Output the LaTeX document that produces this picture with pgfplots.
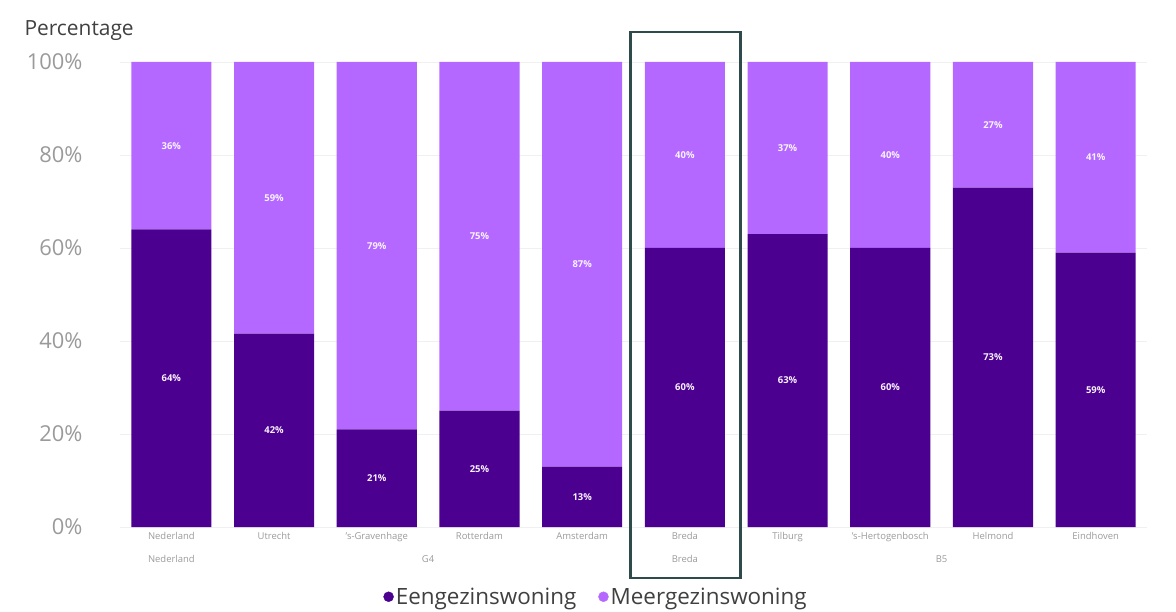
\documentclass[border=0pt]{standalone}
\usepackage{pgfplots}
\usepackage{pgfplotstable}
\pgfplotsset{compat=1.18}
\usepackage{fontspec}
\setmainfont{Open Sans}
\definecolor{dark}{HTML}{4B008F}
\definecolor{light}{HTML}{B468FF}
\definecolor{boxc}{HTML}{2F4A4A}
\definecolor{tickgray}{HTML}{9A9A9A}
\definecolor{txt}{HTML}{404040}
\pgfplotsset{/pgf/number format/assume math mode=true}

% x  e (Eengezinswoning)  m (Meergezinswoning)  el, ml = printed labels
\pgfplotstableread{
x e m el ml
0 64 36 64 36
1 41.6 58.4 42 59
2 21 79 21 79
3 25 75 25 75
4 13 87 13 87
5 60 40 60 40
6 63 37 63 37
7 60 40 60 40
8 73 27 73 27
9 59 41 59 41
}\datatable

\begin{document}
\begin{tikzpicture}
\path[use as bounding box] (0,0) rectangle (1176bp,612bp);

\begin{axis}[
  at={(120bp,85bp)}, anchor=south west,
  scale only axis, width=1027bp, height=465bp,
  ybar stacked, bar width=0.78,
  xmin=-0.5, xmax=9.5, ymin=0, ymax=100,
  axis line style={draw=none}, major tick length=0pt,
  ytick={0,20,40,60,80,100},
  yticklabel={\pgfmathprintnumber{\tick}\%},
  yticklabel style={font=\fontsize{22}{26}\selectfont, text=tickgray, xshift=-34bp},
  ymajorgrids, grid style={color=black!6, line width=0.6bp},
  xtick={0,...,9},
  xticklabels={Nederland,Utrecht,'s-Gravenhage,Rotterdam,Amsterdam,Breda,Tilburg,'s-Hertogenbosch,Helmond,Eindhoven},
  xticklabel style={font=\fontsize{9.5}{11}\selectfont, text=tickgray, yshift=-2bp},
  clip=false,
]
\addplot[fill=dark, draw=none] table[x=x, y=e]{\datatable};
\addplot[fill=light, draw=none] table[x=x, y=m]{\datatable};

\node[font=\fontsize{9.5}{11}\selectfont, text=tickgray] at ([yshift=-32bp]axis cs:0,0) {Nederland};
\node[font=\fontsize{9.5}{11}\selectfont, text=tickgray] at ([yshift=-32bp]axis cs:2.5,0) {G4};
\node[font=\fontsize{9.5}{11}\selectfont, text=tickgray] at ([yshift=-32bp]axis cs:5,0) {Breda};
\node[font=\fontsize{9.5}{11}\selectfont, text=tickgray] at ([yshift=-32bp]axis cs:7.5,0) {B5};

\draw[boxc, line width=2.5bp] ([yshift=-51bp]axis cs:4.47,0) rectangle ([yshift=30bp]axis cs:5.54,100);
\end{axis}

\begin{axis}[
  at={(120bp,85bp)}, anchor=south west,
  scale only axis, width=1027bp, height=465bp,
  xmin=-0.5, xmax=9.5, ymin=0, ymax=100,
  hide axis, clip=false,
  legend style={at={(0.4635,-0.15)}, anchor=center, draw=none, fill=none,
    legend columns=2, font=\fontsize{22.5}{26}\selectfont, text=txt,
    /tikz/every even column/.append style={column sep=20bp}},
  legend image code/.code={\fill[#1] (0.38cm,0bp) circle (5bp);},
]
\addplot[forget plot, only marks, mark=none, point meta=explicit,
  nodes near coords={\pgfmathprintnumber{\pgfplotspointmeta}\%},
  nodes near coords align=center,
  every node near coord/.style={anchor=center, font=\fontsize{9.5}{12}\selectfont\bfseries, text=white!92!light}]
  table[x=x, y expr=\thisrow{e}/2, meta=el]{\datatable};
\addplot[forget plot, only marks, mark=none, point meta=explicit,
  nodes near coords={\pgfmathprintnumber{\pgfplotspointmeta}\%},
  nodes near coords align=center,
  every node near coord/.style={anchor=center, font=\fontsize{9.5}{12}\selectfont\bfseries, text=white!92!light}]
  table[x=x, y expr=\thisrow{e}+\thisrow{m}/2, meta=ml]{\datatable};
\addlegendimage{dark}
\addlegendentry{Eengezinswoning}
\addlegendimage{light}
\addlegendentry{Meergezinswoning}
\end{axis}

\node[anchor=west, font=\fontsize{21}{25}\selectfont, text=txt] at (21bp,581bp) {Percentage};
\end{tikzpicture}
\end{document}
